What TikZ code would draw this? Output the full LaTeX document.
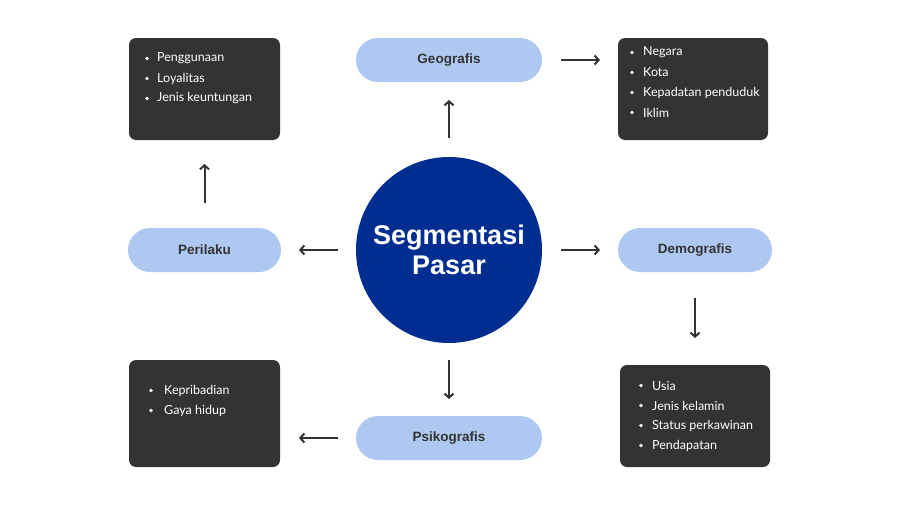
\documentclass[tikz,border=0pt]{standalone}
\usepackage{fontspec}
\setmainfont{Liberation Sans}
\newfontfamily\listfont{Lato}
\usetikzlibrary{arrows.meta}
\definecolor{darkbox}{HTML}{333333}
\definecolor{pillblue}{HTML}{AEC8F1}
\definecolor{navy}{HTML}{002D90}
\definecolor{arrowgray}{HTML}{333333}
\tikzset{
  darkrect/.style={fill=darkbox, rounded corners=7pt, draw=none},
  pill/.style={fill=pillblue, rounded corners=22pt, draw=none, minimum height=44pt, inner sep=0pt,
    font=\fontsize{13.5}{16}\selectfont\bfseries, text=darkbox},
  listtext/.style={anchor=west, text=white, font=\listfont\fontsize{12.5}{15}\selectfont, inner sep=0pt},
  bul/.style={circle, fill=white, inner sep=0pt, minimum size=3.8pt},
  conn/.style={draw=arrowgray, line width=2pt, -{Straight Barb[length=4pt,width=9pt,line width=2pt]}}
}
\begin{document}
\begin{tikzpicture}[x=1pt,y=-1pt]
\useasboundingbox (0,0) rectangle (900,506);
\fill[white] (0,0) rectangle (900,506);
% dark boxes
\node[darkrect, minimum width=151pt, minimum height=102pt] (tl) at (204.5,89) {};
\node[darkrect, minimum width=150pt, minimum height=102pt] (tr) at (693,89) {};
\node[darkrect, minimum width=150pt, minimum height=102pt] (br) at (695,416) {};
\node[darkrect, minimum width=151pt, minimum height=107pt] (bl) at (204.5,413.5) {};
% pills
\node[pill, minimum width=186pt] (geo) at (449,60) {Geografis};
\node[pill, minimum width=153pt] (per) at (204.5,250) {Perilaku};
\node[pill, minimum width=154pt] (dem) at (695,250) {Demografis};
\node[pill, minimum width=186pt] (psi) at (449,438) {Psikografis};
% center circle
\node[circle, fill=navy, minimum size=186pt, inner sep=0pt, text=white, align=center,
  font=\fontsize{27}{30}\selectfont\bfseries] (seg) at (449,250) {Segmentasi\\Pasar};
% lists
\foreach \t [count=\i] in {Penggunaan, Loyalitas, Jenis keuntungan}{
  \node[bul] (tlb\i) at (147,{58.5+20*(\i-1)}) {};
  \node[listtext] (tlt\i) at (157,{58.5+20*(\i-1)}) {\t};
}
\foreach \t [count=\i] in {Negara, Kota, Kepadatan penduduk, Iklim}{
  \node[bul] (trb\i) at (632,{52.5+20*(\i-1)}) {};
  \node[listtext] (trt\i) at (643,{52.5+20*(\i-1)}) {\t};
}
\foreach \t [count=\i] in {Usia, Jenis kelamin, Status perkawinan, Pendapatan}{
  \node[bul] (brb\i) at (641,{385.5+20*(\i-1)}) {};
  \node[listtext] (brt\i) at (652,{385.5+20*(\i-1)}) {\t};
}
\foreach \t [count=\i] in {Kepribadian, Gaya hidup}{
  \node[bul] (blb\i) at (151,{390.5+20*(\i-1)}) {};
  \node[listtext] (blt\i) at (164,{390.5+20*(\i-1)}) {\t};
}
% arrow endpoints
\coordinate (a1s) at (449,138); \coordinate (a1e) at (449,100);
\coordinate (a2s) at (561,60);  \coordinate (a2e) at (600,60);
\coordinate (a3s) at (204.5,203); \coordinate (a3e) at (204.5,164);
\coordinate (a4s) at (338,250); \coordinate (a4e) at (299,250);
\coordinate (a5s) at (561,250); \coordinate (a5e) at (600,250);
\coordinate (a6s) at (695,298); \coordinate (a6e) at (695,338);
\coordinate (a7s) at (449,360); \coordinate (a7e) at (449,399);
\coordinate (a8s) at (338,438); \coordinate (a8e) at (299,438);
\foreach \k in {1,...,8}{ \draw[conn] (a\k s) -- (a\k e); }
\end{tikzpicture}
\end{document}
